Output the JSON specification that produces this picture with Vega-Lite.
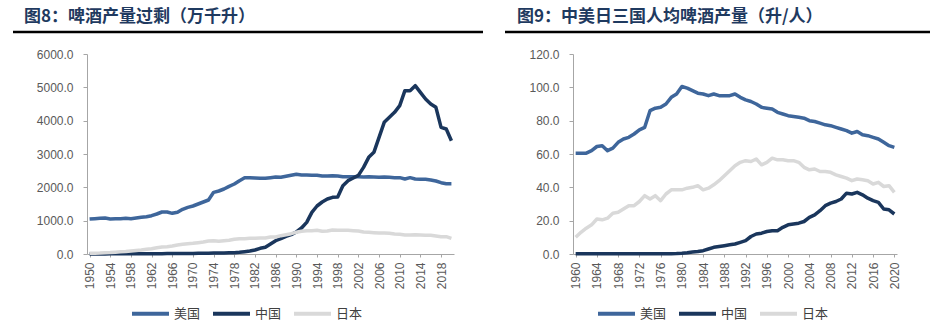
{
  "$schema": "https://vega.github.io/schema/vega-lite/v6.json",
  "background": "white",
  "padding": {"left": 11, "top": 7, "right": 0, "bottom": 0},
  "spacing": 18,
  "config": {
    "view": {"stroke": null},
    "title": {"font": "Noto Sans CJK SC", "fontSize": 17, "fontWeight": "bold", "color": "#1F3A60"},
    "axis": {"grid": false, "domainColor": "#A6A6A6", "tickColor": "#A6A6A6", "labelColor": "#595959", "labelFont": "Liberation Sans", "labelFontSize": 12},
    "legend": {"labelFont": "Noto Sans CJK SC", "labelFontSize": 13, "labelColor": "#404040"}
  },
  "datasets": {
    "prod": [
      {"year":1950,"country":"美国","value":1050},{"year":1951,"country":"美国","value":1060},{"year":1952,"country":"美国","value":1070},{"year":1953,"country":"美国","value":1080},{"year":1954,"country":"美国","value":1050},{"year":1955,"country":"美国","value":1060},{"year":1956,"country":"美国","value":1060},{"year":1957,"country":"美国","value":1070},{"year":1958,"country":"美国","value":1060},{"year":1959,"country":"美国","value":1080},
      {"year":1960,"country":"美国","value":1100},{"year":1961,"country":"美国","value":1120},{"year":1962,"country":"美国","value":1150},{"year":1963,"country":"美国","value":1200},{"year":1964,"country":"美国","value":1260},{"year":1965,"country":"美国","value":1260},{"year":1966,"country":"美国","value":1220},{"year":1967,"country":"美国","value":1250},{"year":1968,"country":"美国","value":1340},{"year":1969,"country":"美国","value":1400},
      {"year":1970,"country":"美国","value":1440},{"year":1971,"country":"美国","value":1500},{"year":1972,"country":"美国","value":1560},{"year":1973,"country":"美国","value":1620},{"year":1974,"country":"美国","value":1850},{"year":1975,"country":"美国","value":1890},{"year":1976,"country":"美国","value":1950},{"year":1977,"country":"美国","value":2030},{"year":1978,"country":"美国","value":2100},{"year":1979,"country":"美国","value":2200},
      {"year":1980,"country":"美国","value":2290},{"year":1981,"country":"美国","value":2290},{"year":1982,"country":"美国","value":2280},{"year":1983,"country":"美国","value":2270},{"year":1984,"country":"美国","value":2270},{"year":1985,"country":"美国","value":2290},{"year":1986,"country":"美国","value":2310},{"year":1987,"country":"美国","value":2300},{"year":1988,"country":"美国","value":2330},{"year":1989,"country":"美国","value":2360},
      {"year":1990,"country":"美国","value":2390},{"year":1991,"country":"美国","value":2370},{"year":1992,"country":"美国","value":2370},{"year":1993,"country":"美国","value":2360},{"year":1994,"country":"美国","value":2360},{"year":1995,"country":"美国","value":2340},{"year":1996,"country":"美国","value":2340},{"year":1997,"country":"美国","value":2350},{"year":1998,"country":"美国","value":2340},{"year":1999,"country":"美国","value":2320},
      {"year":2000,"country":"美国","value":2320},{"year":2001,"country":"美国","value":2320},{"year":2002,"country":"美国","value":2320},{"year":2003,"country":"美国","value":2310},{"year":2004,"country":"美国","value":2320},{"year":2005,"country":"美国","value":2310},{"year":2006,"country":"美国","value":2300},{"year":2007,"country":"美国","value":2310},{"year":2008,"country":"美国","value":2300},{"year":2009,"country":"美国","value":2290},
      {"year":2010,"country":"美国","value":2290},{"year":2011,"country":"美国","value":2250},{"year":2012,"country":"美国","value":2290},{"year":2013,"country":"美国","value":2250},{"year":2014,"country":"美国","value":2240},{"year":2015,"country":"美国","value":2240},{"year":2016,"country":"美国","value":2220},{"year":2017,"country":"美国","value":2190},{"year":2018,"country":"美国","value":2140},{"year":2019,"country":"美国","value":2110},{"year":2020,"country":"美国","value":2110},
      {"year":1950,"country":"中国","value":2},{"year":1951,"country":"中国","value":2},{"year":1952,"country":"中国","value":3},{"year":1953,"country":"中国","value":3},{"year":1954,"country":"中国","value":4},{"year":1955,"country":"中国","value":4},{"year":1956,"country":"中国","value":5},{"year":1957,"country":"中国","value":6},{"year":1958,"country":"中国","value":6},{"year":1959,"country":"中国","value":7},
      {"year":1960,"country":"中国","value":8},{"year":1961,"country":"中国","value":8},{"year":1962,"country":"中国","value":9},{"year":1963,"country":"中国","value":10},{"year":1964,"country":"中国","value":11},{"year":1965,"country":"中国","value":12},{"year":1966,"country":"中国","value":13},{"year":1967,"country":"中国","value":14},{"year":1968,"country":"中国","value":15},{"year":1969,"country":"中国","value":17},
      {"year":1970,"country":"中国","value":18},{"year":1971,"country":"中国","value":20},{"year":1972,"country":"中国","value":22},{"year":1973,"country":"中国","value":24},{"year":1974,"country":"中国","value":27},{"year":1975,"country":"中国","value":30},{"year":1976,"country":"中国","value":33},{"year":1977,"country":"中国","value":36},{"year":1978,"country":"中国","value":40},{"year":1979,"country":"中国","value":50},
      {"year":1980,"country":"中国","value":70},{"year":1981,"country":"中国","value":90},{"year":1982,"country":"中国","value":120},{"year":1983,"country":"中国","value":170},{"year":1984,"country":"中国","value":200},{"year":1985,"country":"中国","value":300},{"year":1986,"country":"中国","value":400},{"year":1987,"country":"中国","value":460},{"year":1988,"country":"中国","value":530},{"year":1989,"country":"中国","value":580},
      {"year":1990,"country":"中国","value":660},{"year":1991,"country":"中国","value":780},{"year":1992,"country":"中国","value":950},{"year":1993,"country":"中国","value":1250},{"year":1994,"country":"中国","value":1440},{"year":1995,"country":"中国","value":1560},{"year":1996,"country":"中国","value":1650},{"year":1997,"country":"中国","value":1700},{"year":1998,"country":"中国","value":1710},{"year":1999,"country":"中国","value":2050},
      {"year":2000,"country":"中国","value":2200},{"year":2001,"country":"中国","value":2280},{"year":2002,"country":"中国","value":2360},{"year":2003,"country":"中国","value":2600},{"year":2004,"country":"中国","value":2900},{"year":2005,"country":"中国","value":3050},{"year":2006,"country":"中国","value":3500},{"year":2007,"country":"中国","value":3950},{"year":2008,"country":"中国","value":4100},{"year":2009,"country":"中国","value":4250},
      {"year":2010,"country":"中国","value":4450},{"year":2011,"country":"中国","value":4900},{"year":2012,"country":"中国","value":4900},{"year":2013,"country":"中国","value":5050},{"year":2014,"country":"中国","value":4850},{"year":2015,"country":"中国","value":4650},{"year":2016,"country":"中国","value":4500},{"year":2017,"country":"中国","value":4400},{"year":2018,"country":"中国","value":3800},{"year":2019,"country":"中国","value":3750},{"year":2020,"country":"中国","value":3400},
      {"year":1950,"country":"日本","value":20},{"year":1951,"country":"日本","value":25},{"year":1952,"country":"日本","value":30},{"year":1953,"country":"日本","value":40},{"year":1954,"country":"日本","value":45},{"year":1955,"country":"日本","value":55},{"year":1956,"country":"日本","value":65},{"year":1957,"country":"日本","value":75},{"year":1958,"country":"日本","value":90},{"year":1959,"country":"日本","value":105},
      {"year":1960,"country":"日本","value":120},{"year":1961,"country":"日本","value":140},{"year":1962,"country":"日本","value":160},{"year":1963,"country":"日本","value":190},{"year":1964,"country":"日本","value":210},{"year":1965,"country":"日本","value":220},{"year":1966,"country":"日本","value":240},{"year":1967,"country":"日本","value":270},{"year":1968,"country":"日本","value":290},{"year":1969,"country":"日本","value":310},
      {"year":1970,"country":"日本","value":320},{"year":1971,"country":"日本","value":340},{"year":1972,"country":"日本","value":360},{"year":1973,"country":"日本","value":390},{"year":1974,"country":"日本","value":400},{"year":1975,"country":"日本","value":380},{"year":1976,"country":"日本","value":400},{"year":1977,"country":"日本","value":410},{"year":1978,"country":"日本","value":440},{"year":1979,"country":"日本","value":460},
      {"year":1980,"country":"日本","value":460},{"year":1981,"country":"日本","value":470},{"year":1982,"country":"日本","value":470},{"year":1983,"country":"日本","value":480},{"year":1984,"country":"日本","value":480},{"year":1985,"country":"日本","value":510},{"year":1986,"country":"日本","value":510},{"year":1987,"country":"日本","value":550},{"year":1988,"country":"日本","value":580},{"year":1989,"country":"日本","value":610},
      {"year":1990,"country":"日本","value":650},{"year":1991,"country":"日本","value":680},{"year":1992,"country":"日本","value":700},{"year":1993,"country":"日本","value":700},{"year":1994,"country":"日本","value":710},{"year":1995,"country":"日本","value":680},{"year":1996,"country":"日本","value":690},{"year":1997,"country":"日本","value":720},{"year":1998,"country":"日本","value":710},{"year":1999,"country":"日本","value":710},
      {"year":2000,"country":"日本","value":710},{"year":2001,"country":"日本","value":700},{"year":2002,"country":"日本","value":690},{"year":2003,"country":"日本","value":660},{"year":2004,"country":"日本","value":650},{"year":2005,"country":"日本","value":640},{"year":2006,"country":"日本","value":630},{"year":2007,"country":"日本","value":630},{"year":2008,"country":"日本","value":620},{"year":2009,"country":"日本","value":600},
      {"year":2010,"country":"日本","value":590},{"year":2011,"country":"日本","value":570},{"year":2012,"country":"日本","value":570},{"year":2013,"country":"日本","value":580},{"year":2014,"country":"日本","value":570},{"year":2015,"country":"日本","value":560},{"year":2016,"country":"日本","value":560},{"year":2017,"country":"日本","value":540},{"year":2018,"country":"日本","value":520},{"year":2019,"country":"日本","value":520},{"year":2020,"country":"日本","value":470}
    ],
    "percap": [
      {"year":1960,"country":"美国","value":60.5},{"year":1961,"country":"美国","value":60.5},{"year":1962,"country":"美国","value":60.5},{"year":1963,"country":"美国","value":62},{"year":1964,"country":"美国","value":64.5},{"year":1965,"country":"美国","value":65},{"year":1966,"country":"美国","value":62},{"year":1967,"country":"美国","value":63.5},{"year":1968,"country":"美国","value":67},{"year":1969,"country":"美国","value":69},
      {"year":1970,"country":"美国","value":70},{"year":1971,"country":"美国","value":72},{"year":1972,"country":"美国","value":74.5},{"year":1973,"country":"美国","value":76},{"year":1974,"country":"美国","value":86},{"year":1975,"country":"美国","value":87.5},{"year":1976,"country":"美国","value":88},{"year":1977,"country":"美国","value":90},{"year":1978,"country":"美国","value":94},{"year":1979,"country":"美国","value":96},
      {"year":1980,"country":"美国","value":100.5},{"year":1981,"country":"美国","value":99.5},{"year":1982,"country":"美国","value":98},{"year":1983,"country":"美国","value":96.5},{"year":1984,"country":"美国","value":96},{"year":1985,"country":"美国","value":95},{"year":1986,"country":"美国","value":96},{"year":1987,"country":"美国","value":95},{"year":1988,"country":"美国","value":95},{"year":1989,"country":"美国","value":95},
      {"year":1990,"country":"美国","value":96},{"year":1991,"country":"美国","value":94},{"year":1992,"country":"美国","value":92.5},{"year":1993,"country":"美国","value":91.5},{"year":1994,"country":"美国","value":90},{"year":1995,"country":"美国","value":88},{"year":1996,"country":"美国","value":87.5},{"year":1997,"country":"美国","value":87},{"year":1998,"country":"美国","value":85},{"year":1999,"country":"美国","value":84},
      {"year":2000,"country":"美国","value":83},{"year":2001,"country":"美国","value":82.5},{"year":2002,"country":"美国","value":82},{"year":2003,"country":"美国","value":81.5},{"year":2004,"country":"美国","value":80},{"year":2005,"country":"美国","value":79.5},{"year":2006,"country":"美国","value":78.5},{"year":2007,"country":"美国","value":77.5},{"year":2008,"country":"美国","value":77},{"year":2009,"country":"美国","value":76},
      {"year":2010,"country":"美国","value":75},{"year":2011,"country":"美国","value":74},{"year":2012,"country":"美国","value":72.5},{"year":2013,"country":"美国","value":73.5},{"year":2014,"country":"美国","value":71.5},{"year":2015,"country":"美国","value":71},{"year":2016,"country":"美国","value":70},{"year":2017,"country":"美国","value":69},{"year":2018,"country":"美国","value":67},{"year":2019,"country":"美国","value":65},{"year":2020,"country":"美国","value":64},
      {"year":1960,"country":"中国","value":0.1},{"year":1961,"country":"中国","value":0.1},{"year":1962,"country":"中国","value":0.1},{"year":1963,"country":"中国","value":0.1},{"year":1964,"country":"中国","value":0.1},{"year":1965,"country":"中国","value":0.1},{"year":1966,"country":"中国","value":0.1},{"year":1967,"country":"中国","value":0.1},{"year":1968,"country":"中国","value":0.1},{"year":1969,"country":"中国","value":0.1},
      {"year":1970,"country":"中国","value":0.1},{"year":1971,"country":"中国","value":0.1},{"year":1972,"country":"中国","value":0.1},{"year":1973,"country":"中国","value":0.1},{"year":1974,"country":"中国","value":0.1},{"year":1975,"country":"中国","value":0.1},{"year":1976,"country":"中国","value":0.1},{"year":1977,"country":"中国","value":0.2},{"year":1978,"country":"中国","value":0.2},{"year":1979,"country":"中国","value":0.3},
      {"year":1980,"country":"中国","value":0.5},{"year":1981,"country":"中国","value":0.8},{"year":1982,"country":"中国","value":1.2},{"year":1983,"country":"中国","value":1.5},{"year":1984,"country":"中国","value":2},{"year":1985,"country":"中国","value":3},{"year":1986,"country":"中国","value":4},{"year":1987,"country":"中国","value":4.5},{"year":1988,"country":"中国","value":5},{"year":1989,"country":"中国","value":5.5},
      {"year":1990,"country":"中国","value":6},{"year":1991,"country":"中国","value":7},{"year":1992,"country":"中国","value":8},{"year":1993,"country":"中国","value":10.5},{"year":1994,"country":"中国","value":12},{"year":1995,"country":"中国","value":12.5},{"year":1996,"country":"中国","value":13.5},{"year":1997,"country":"中国","value":14},{"year":1998,"country":"中国","value":14},{"year":1999,"country":"中国","value":16},
      {"year":2000,"country":"中国","value":17.5},{"year":2001,"country":"中国","value":18},{"year":2002,"country":"中国","value":18.5},{"year":2003,"country":"中国","value":19.5},{"year":2004,"country":"中国","value":22},{"year":2005,"country":"中国","value":23.5},{"year":2006,"country":"中国","value":26},{"year":2007,"country":"中国","value":29},{"year":2008,"country":"中国","value":30.5},{"year":2009,"country":"中国","value":31.5},
      {"year":2010,"country":"中国","value":33},{"year":2011,"country":"中国","value":36.5},{"year":2012,"country":"中国","value":36},{"year":2013,"country":"中国","value":37},{"year":2014,"country":"中国","value":35.5},{"year":2015,"country":"中国","value":33.5},{"year":2016,"country":"中国","value":32},{"year":2017,"country":"中国","value":31},{"year":2018,"country":"中国","value":27},{"year":2019,"country":"中国","value":26.5},{"year":2020,"country":"中国","value":24},
      {"year":1960,"country":"日本","value":10},{"year":1961,"country":"日本","value":13},{"year":1962,"country":"日本","value":15.5},{"year":1963,"country":"日本","value":17.5},{"year":1964,"country":"日本","value":21},{"year":1965,"country":"日本","value":20.5},{"year":1966,"country":"日本","value":21.5},{"year":1967,"country":"日本","value":24.5},{"year":1968,"country":"日本","value":25},{"year":1969,"country":"日本","value":27},
      {"year":1970,"country":"日本","value":29},{"year":1971,"country":"日本","value":29},{"year":1972,"country":"日本","value":31.5},{"year":1973,"country":"日本","value":35},{"year":1974,"country":"日本","value":33},{"year":1975,"country":"日本","value":35},{"year":1976,"country":"日本","value":32},{"year":1977,"country":"日本","value":36},{"year":1978,"country":"日本","value":38.5},{"year":1979,"country":"日本","value":38.5},
      {"year":1980,"country":"日本","value":38.5},{"year":1981,"country":"日本","value":39.5},{"year":1982,"country":"日本","value":40},{"year":1983,"country":"日本","value":41},{"year":1984,"country":"日本","value":38.5},{"year":1985,"country":"日本","value":39.5},{"year":1986,"country":"日本","value":41.5},{"year":1987,"country":"日本","value":44},{"year":1988,"country":"日本","value":47},{"year":1989,"country":"日本","value":50},
      {"year":1990,"country":"日本","value":53},{"year":1991,"country":"日本","value":55},{"year":1992,"country":"日本","value":56},{"year":1993,"country":"日本","value":55.5},{"year":1994,"country":"日本","value":57},{"year":1995,"country":"日本","value":53.5},{"year":1996,"country":"日本","value":55},{"year":1997,"country":"日本","value":57.5},{"year":1998,"country":"日本","value":56.5},{"year":1999,"country":"日本","value":56.5},
      {"year":2000,"country":"日本","value":56},{"year":2001,"country":"日本","value":56},{"year":2002,"country":"日本","value":55},{"year":2003,"country":"日本","value":52},{"year":2004,"country":"日本","value":50.5},{"year":2005,"country":"日本","value":51},{"year":2006,"country":"日本","value":49.5},{"year":2007,"country":"日本","value":49.5},{"year":2008,"country":"日本","value":49},{"year":2009,"country":"日本","value":47.5},
      {"year":2010,"country":"日本","value":46.5},{"year":2011,"country":"日本","value":45.5},{"year":2012,"country":"日本","value":44},{"year":2013,"country":"日本","value":45},{"year":2014,"country":"日本","value":44.5},{"year":2015,"country":"日本","value":44},{"year":2016,"country":"日本","value":42},{"year":2017,"country":"日本","value":43},{"year":2018,"country":"日本","value":40.5},{"year":2019,"country":"日本","value":41},{"year":2020,"country":"日本","value":37}
    ]
  },
  "hconcat": [
    {
      "width": 367,
      "height": 200,
      "title": {"text": "图8：啤酒产量过剩（万千升）", "anchor": "start", "frame": "group", "dx": -63, "offset": 5},
      "layer": [
        {
          "data": {"values": [{}]},
          "mark": {"type": "rule", "color": "black", "strokeWidth": 2.5},
          "encoding": {"x": {"value": -74}, "x2": {"value": 396}, "y": {"value": -22}}
        },
        {
          "data": {"name": "prod"},
          "mark": {"type": "line", "strokeWidth": 3.5, "strokeJoin": "round"},
          "encoding": {
            "x": {"field": "year", "type": "quantitative", "scale": {"domain": [1949.5, 2020.5], "nice": false, "zero": false},
                  "axis": {"title": null, "values": [1950,1954,1958,1962,1966,1970,1974,1978,1982,1986,1990,1994,1998,2002,2006,2010,2014,2018], "format": "d", "labelAngle": 270, "tickSize": 3, "labelPadding": 5, "labelOverlap": false, "labelFlush": false}},
            "y": {"field": "value", "type": "quantitative", "scale": {"domain": [0, 6000], "nice": false},
                  "axis": {"title": null, "values": [0,1000,2000,3000,4000,5000,6000], "format": ".1f", "tickSize": 4, "labelPadding": 10}},
            "color": {"field": "country", "type": "nominal", "sort": null,
                      "scale": {"domain": ["美国", "中国", "日本"], "range": ["#3E669B", "#1A365C", "#D9D9D9"]},
                      "legend": {"title": null, "orient": "none", "legendX": 43, "legendY": 239, "direction": "horizontal", "symbolType": "stroke", "symbolSize": 1369, "symbolStrokeWidth": 4, "labelOffset": 3, "columnPadding": 4}}
          }
        }
      ]
    },
    {
      "width": 324,
      "height": 200,
      "title": {"text": "图9：中美日三国人均啤酒产量（升/人）", "anchor": "start", "frame": "group", "dx": -56, "offset": 5},
      "layer": [
        {
          "data": {"values": [{}]},
          "mark": {"type": "rule", "color": "black", "strokeWidth": 2.5},
          "encoding": {"x": {"value": -68}, "x2": {"value": 357}, "y": {"value": -22}}
        },
        {
          "data": {"name": "percap"},
          "mark": {"type": "line", "strokeWidth": 3.5, "strokeJoin": "round"},
          "encoding": {
            "x": {"field": "year", "type": "quantitative", "scale": {"domain": [1959.5, 2020.5], "nice": false, "zero": false},
                  "axis": {"title": null, "values": [1960,1964,1968,1972,1976,1980,1984,1988,1992,1996,2000,2004,2008,2012,2016,2020], "format": "d", "labelAngle": 270, "tickSize": 3, "labelPadding": 5, "labelOverlap": false, "labelFlush": false}},
            "y": {"field": "value", "type": "quantitative", "scale": {"domain": [0, 120], "nice": false},
                  "axis": {"title": null, "values": [0,20,40,60,80,100,120], "format": ".1f", "tickSize": 4, "labelPadding": 10}},
            "color": {"field": "country", "type": "nominal", "sort": null,
                      "scale": {"domain": ["美国", "中国", "日本"], "range": ["#3E669B", "#1A365C", "#D9D9D9"]},
                      "legend": {"title": null, "orient": "none", "legendX": 23, "legendY": 239, "direction": "horizontal", "symbolType": "stroke", "symbolSize": 1369, "symbolStrokeWidth": 4, "labelOffset": 3, "columnPadding": 4}}
          }
        }
      ]
    }
  ],
  "resolve": {"scale": {"color": "independent", "x": "independent", "y": "independent"}, "legend": {"color": "independent"}}
}
